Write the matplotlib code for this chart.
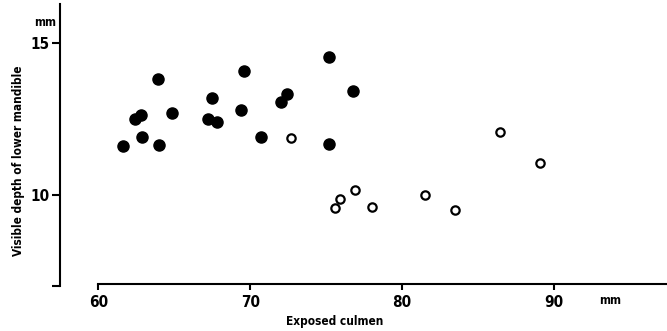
import matplotlib.pyplot as plt

plt.rcParams['font.family'] = ['DejaVu Sans']
plt.rcParams['font.stretch'] = 'condensed'

# filled circles
solid_culmen = [61.6, 62.4, 62.8, 62.9, 63.9, 64.0, 64.85, 67.2, 67.5, 67.8,
                69.6, 69.4, 70.7, 72.0, 72.4, 75.2, 76.75, 75.2]
solid_depth = [11.62, 12.50, 12.63, 11.92, 13.83, 11.64, 12.70, 12.50, 13.20, 12.41,
               14.10, 12.80, 11.93, 13.08, 13.32, 14.54, 13.44, 11.67]

# open circles
open_culmen = [72.7, 86.45, 89.05, 76.9, 75.9, 75.6, 78.0, 81.5, 83.5]
open_depth = [11.89, 12.07, 11.06, 10.15, 9.86, 9.58, 9.59, 9.99, 9.51]

xticks = [60, 70, 80, 90]
yticks = [7, 10, 15]
ytick_labels = ['', '10', '15']

fig = plt.figure(figsize=(6.67, 3.31), dpi=100)
ax = fig.add_axes([40 / 667, 31 / 331, 627 / 667, 300 / 331])

ax.plot(solid_culmen, solid_depth, 'o', color='black', markersize=8, linestyle='none')
ax.plot(open_culmen, open_depth, 'o', markerfacecolor='white', markeredgecolor='black',
        markeredgewidth=1.6, markersize=6, linestyle='none')

ax.set_xlim(56.16, 97.44)
ax.set_ylim(6.54, 16.43)

for s in ['top', 'right']:
    ax.spines[s].set_visible(False)
ax.spines['left'].set_position(('data', 57.45))
ax.spines['left'].set_bounds(7.0, 16.3)
ax.spines['bottom'].set_position(('data', 7.08))
ax.spines['bottom'].set_bounds(60, 97.44)
for s in ['left', 'bottom']:
    ax.spines[s].set_linewidth(1.5)

ax.set_xticks(xticks)
ax.set_xticklabels([str(t) for t in xticks])
ax.set_yticks(yticks)
ax.set_yticklabels(ytick_labels)
ax.tick_params(axis='x', direction='out', length=4, width=1.5, pad=4, labelsize=11)
ax.tick_params(axis='y', direction='out', length=6, width=1.5, pad=1.5, labelsize=11)
for lab in ax.get_xticklabels() + ax.get_yticklabels():
    lab.set_fontweight('bold')
    lab.set_fontstretch('condensed')

fig.text(335 / 667, 1 - 321 / 331, 'Exposed culmen', ha='center', va='center',
         fontsize=8.5, fontweight='bold', fontstretch='condensed')
fig.text(19 / 667, 1 - 161 / 331, 'Visible depth of lower mandible', ha='center', va='center',
         rotation=90, fontsize=8.5, fontweight='bold', fontstretch='condensed')
fig.text(610 / 667, 1 - 300 / 331, 'mm', ha='center', va='center', fontsize=8.5,
         fontweight='bold', fontstretch='condensed')
fig.text(45 / 667, 1 - 22 / 331, 'mm', ha='center', va='center', fontsize=8.5,
         fontweight='bold', fontstretch='condensed')

fig.savefig('out.png', dpi=100)
